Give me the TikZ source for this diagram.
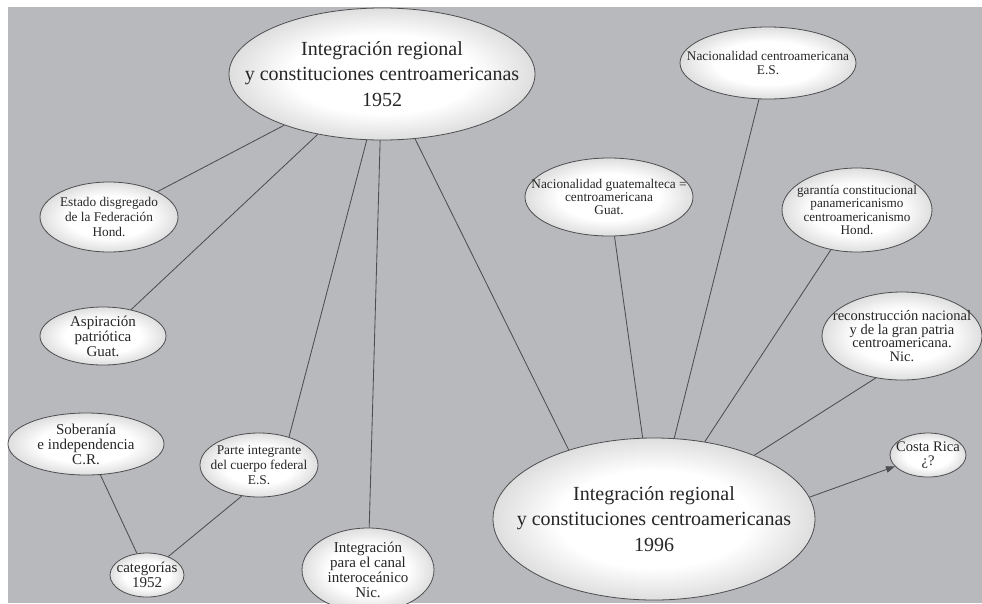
\documentclass[tikz,border=0pt]{standalone}
\usepackage{fontspec}
\setmainfont{Liberation Serif}
\usetikzlibrary{shapes.geometric,arrows.meta}

\definecolor{fondo}{RGB}{184,185,189}
\definecolor{trazo}{RGB}{78,78,80}
\pgfdeclareradialshading{brillo}{\pgfpoint{0bp}{0bp}}{color(0bp)=(white); color(15bp)=(white); color(25bp)=(black!13); color(50bp)=(black!13)}

\tikzset{
  globo/.style={ellipse, draw=trazo, line width=0.8pt, shade, shading=brillo,
    inner sep=-150pt, align=center, text=black!85},
  tam/.style 2 args={minimum width=#1, minimum height=#2},
  enlace/.style={draw=trazo, line width=0.85pt},
  fgrande/.style={font=\fontsize{20}{25.5}\selectfont},
  fmedia/.style={font=\fontsize{15}{15}\selectfont},
  fchica/.style={font=\fontsize{13.3}{14.8}\selectfont},
}

\begin{document}
\begin{tikzpicture}[x=1pt, y=-1pt]

\useasboundingbox (0,0) rectangle (982,603);
\fill[white] (0,0) rectangle (982,603);
\fill[fondo] (8,7) rectangle (982,603);

% los dos centros
\node[globo, fgrande, tam={306}{132}] (c52) at (382,74)
  {Integración regional\\y constituciones centroamericanas\\1952};
\node[globo, fgrande, tam={322}{162}] (c96) at (654,519)
  {Integración regional\\y constituciones centroamericanas\\1996};

% 1952
\node[globo, fchica, tam={138}{70}] (estado) at (109,217)
  {Estado disgregado\\de la Federación\\Hond.};
\node[globo, fmedia, tam={126}{58}] (aspira) at (103,336)
  {Aspiración\\patriótica\\Guat.};
\node[globo, fmedia, tam={156}{62}] (sober) at (86,444)
  {Soberanía\\e independencia\\C.R.};
\node[globo, fmedia, tam={74}{44}] (categ) at (147,575)
  {categorías\\1952};
\node[globo, font=\fontsize{13.4}{14.7}\selectfont, tam={118}{64}] (parte) at (259,465)
  {Parte integrante\\del cuerpo federal\\E.S.};
\node[globo, fmedia, tam={132}{84}] (canal) at (368,570)
  {Integración\\para el canal\\interoceánico\\Nic.};

% 1996
\node[globo, font=\fontsize{13.3}{13.3}\selectfont, tam={176}{72}] (naccen) at (768,63)
  {Nacionalidad centroamericana\\E.S.};
\node[globo, font=\fontsize{13.3}{13.3}\selectfont, tam={168}{78}] (nacgua) at (609,197)
  {Nacionalidad guatemalteca =\\centroamericana\\Guat.};
\node[globo, font=\fontsize{13.2}{13.2}\selectfont, tam={150}{84}] (garan) at (857,210)
  {garantía constitucional\\panamericanismo\\centroamericanismo\\Hond.};
\node[globo, font=\fontsize{14.5}{13.6}\selectfont, tam={160}{88}] (recon) at (902,336)
  {reconstrucción nacional\\y de la gran patria\\centroamericana.\\Nic.};
\node[globo, font=\fontsize{14.6}{13.4}\selectfont, tam={76}{44}] (costa) at (928,455)
  {Costa Rica\\¿?};

\begin{scope}[enlace]
\draw (c52) -- (estado);
\draw (c52) -- (aspira);
\draw (c52.257) -- (parte.43);
\draw (c52) -- (canal);
\draw (c52.297) -- (c96.141);
\draw (sober) -- (categ);
\draw (parte.241) -- (categ.41);
\draw (c96) -- (nacgua);
\draw (c96) -- (naccen);
\draw (c96) -- (garan);
\draw (c96) -- (recon.238);
\draw[-{Triangle[length=9pt,width=6.5pt]}] (c96.8) -- (costa.199);
\end{scope}

\end{tikzpicture}
\end{document}
